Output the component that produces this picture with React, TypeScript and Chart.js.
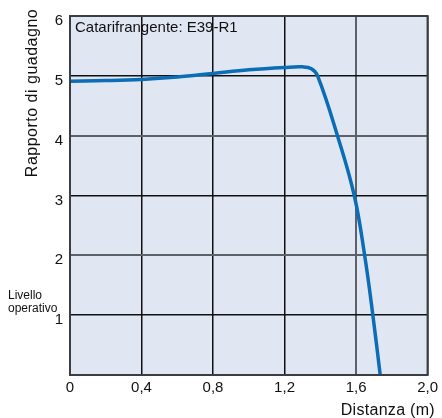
import React, { useEffect, useRef } from "react";
import { Chart, registerables } from "chart.js";

Chart.register(...registerables);

const distanceM = [0, 0.2, 0.4, 0.6, 0.8, 1.0, 1.2, 1.3, 1.35, 1.385, 1.496, 1.59, 1.648, 1.694, 1.735];
const gainRatio = [4.91, 4.92, 4.94, 4.98, 5.04, 5.1, 5.14, 5.15, 5.12, 5.0, 4.0, 3.0, 2.0, 1.0, 0];
const xTicks = [0, 0.4, 0.8, 1.2, 1.6, 2.0];
const yTicks = [0, 1, 2, 3, 4, 5, 6];
const chartTitle = "Catarifrangente: E39-R1";
const yTitle = "Rapporto di guadagno";
const xTitle = "Distanza (m)";
const levelLabel = ["Livello", "operativo"];

const FONT = "'Liberation Sans', Arial, Helvetica, sans-serif";

export default function App() {
  const ref = useRef<HTMLCanvasElement | null>(null);
  useEffect(() => {
    document.body.style.margin = "0";
    const canvas = ref.current!;
    const decor = {
      id: "decor",
      beforeDraw(chart: any) {
        const { ctx, chartArea: a } = chart;
        ctx.save();
        ctx.fillStyle = "#ffffff";
        ctx.fillRect(0, 0, chart.width, chart.height);
        ctx.fillStyle = "#e0e7f3";
        ctx.fillRect(a.left, a.top, a.right - a.left, a.bottom - a.top);
        ctx.restore();
      },
      afterDraw(chart: any) {
        const { ctx, chartArea: a } = chart;
        ctx.save();
        ctx.strokeStyle = "#3a3d42";
        ctx.lineWidth = 2;
        ctx.strokeRect(a.left, a.top, a.right - a.left, a.bottom - a.top);
        ctx.fillStyle = "#111111";
        ctx.font = `15px ${FONT}`;
        ctx.textAlign = "left";
        ctx.textBaseline = "middle";
        ctx.fillText(chartTitle, a.left + 5, a.top + 12);
        // y title
        ctx.save();
        ctx.font = `16px ${FONT}`;
        (ctx as any).letterSpacing = "0.5px";
        ctx.translate(33, 93);
        ctx.rotate(-Math.PI / 2);
        ctx.textAlign = "center";
        ctx.fillText(yTitle, 0, 0);
        ctx.restore();
        // x title
        ctx.save();
        ctx.font = `16px ${FONT}`;
        (ctx as any).letterSpacing = "0.3px";
        ctx.textAlign = "right";
        ctx.fillText(xTitle, 435, 411);
        ctx.restore();
        // level label
        ctx.font = `12px ${FONT}`;
        ctx.textAlign = "left";
        ctx.fillText(levelLabel[0], 8, 296);
        ctx.fillText(levelLabel[1], 8, 309);
        ctx.restore();
      },
    };
    const isGrayX = (c: any) => c.tick && Math.abs(c.tick.value - 1.6) < 1e-6;
    const isGrayY = (c: any) => c.tick && (c.tick.value === 4 || c.tick.value === 2);
    const chart = new Chart(canvas, {
      type: "line",
      data: {
        datasets: [
          {
            data: distanceM.map((x, i) => ({ x, y: gainRatio[i] })),
            borderColor: "#0a6db5",
            borderWidth: 3.5,
            pointRadius: 0,
            tension: 0.4,
            fill: false,
          },
        ],
      },
      options: {
        animation: false,
        responsive: false,
        layout: { padding: { left: 0, top: 13, right: 10, bottom: 0 } },
        plugins: { legend: { display: false }, tooltip: { enabled: false } },
        scales: {
          x: {
            type: "linear",
            min: 0,
            max: 2,
            afterFit: (s: any) => {
              s.height = 43;
            },
            afterBuildTicks: (s: any) => {
              s.ticks = xTicks.map((v) => ({ value: v }));
            },
            border: { display: false },
            grid: {
              drawTicks: false,
              lineWidth: (c: any) => (isGrayX(c) ? 2 : 1.5),
              color: (c: any) => (isGrayX(c) ? "#5e6268" : "#111111"),
            },
            ticks: {
              padding: 4,
              color: "#111111",
              font: { family: FONT, size: 15 },
              maxRotation: 0,
              callback: (v: any) => Number(v).toFixed(1).replace(".", ",").replace(/^0,0$/, "0"),
            },
          },
          y: {
            type: "linear",
            min: 0,
            max: 6,
            afterFit: (s: any) => {
              s.width = 70;
            },
            afterBuildTicks: (s: any) => {
              s.ticks = yTicks.map((v) => ({ value: v }));
            },
            border: { display: false },
            grid: {
              drawTicks: false,
              lineWidth: (c: any) => (isGrayY(c) ? 2 : 1.5),
              color: (c: any) => (isGrayY(c) ? "#5e6268" : "#111111"),
            },
            ticks: {
              padding: 7,
              labelOffset: 5,
              color: "#111111",
              font: { family: FONT, size: 15 },
              callback: (v: any) => (v === 0 ? "" : String(v)),
            },
          },
        },
      },
      plugins: [decor],
    } as any);
    return () => chart.destroy();
  }, []);
  return (
    <div style={{ position: "absolute", left: 0, top: 0, width: 442, height: 418 }}>
      <canvas ref={ref} width={442} height={418} />
    </div>
  );
}
